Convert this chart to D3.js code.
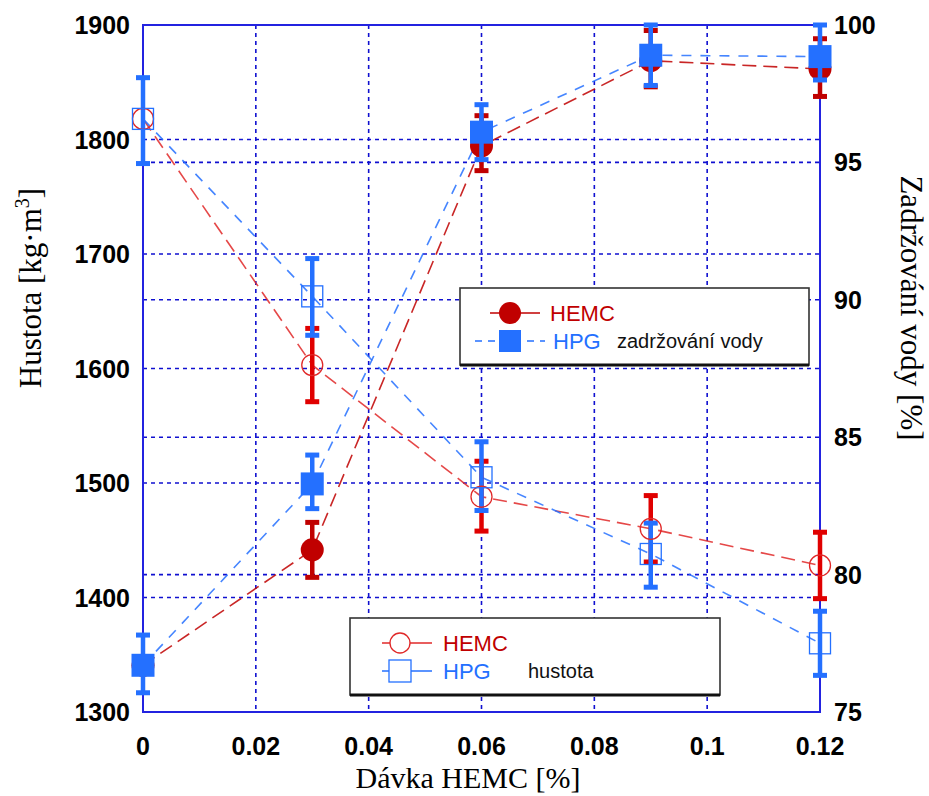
<!DOCTYPE html>
<html>
<head>
<meta charset="utf-8">
<script src="https://cdn.jsdelivr.net/npm/d3@7"></script>
<style>
  body { margin: 0; background: #fff; }
  svg { display: block; }
</style>
</head>
<body>
<div id="chart"></div>
<script>
// HEMC / HPG dose [%]
var dose = [0, 0.03, 0.06, 0.09, 0.12];

// density (hustota) [kg/m3], left axis
var densHEMC   = [1818, 1603, 1488, 1460, 1428];
var densHEMCHi = [1818, 1635, 1519, 1489, 1457];
var densHEMCLo = [1818, 1571, 1458, 1431, 1399];
var densHPG    = [1818, 1663, 1505, 1438, 1360];
var densHPGHi  = [1854, 1696, 1536, 1465, 1388];
var densHPGLo  = [1779, 1629, 1476, 1409, 1332];

// water retention (zadrzovani vody) [%], right axis
var retHEMC   = [76.7, 80.9, 95.6, 98.7, 98.4];
var retHEMCHi = [76.7, 81.9, 96.7, 99.8, 99.5];
var retHEMCLo = [76.7, 79.9, 94.7, 97.75, 97.4];
var retHPG    = [76.7, 83.3, 96.1, 98.9, 98.85];
var retHPGHi  = [77.8, 84.35, 97.1, 100, 100];
var retHPGLo  = [75.7, 82.4, 95.1, 97.8, 98.0];

var xTicks = [0, 0.02, 0.04, 0.06, 0.08, 0.1, 0.12];
var leftTicks = [1300, 1400, 1500, 1600, 1700, 1800, 1900];
var rightTicks = [75, 80, 85, 90, 95, 100];

var W = 929, H = 796;
var m = {left: 143, right: 820, top: 25, bottom: 712};

var red = "#c00000", redLight = "#e02828", blue = "#2470ff", axisBlue = "#2323e0";

var svg = d3.select("#chart").append("svg")
    .attr("width", W)
    .attr("height", H);

var x = d3.scaleLinear().domain([0, 0.12]).range([m.left, m.right]);
var yL = d3.scaleLinear().domain([1300, 1900]).range([m.bottom, m.top]);
var yR = d3.scaleLinear().domain([75, 100]).range([m.bottom, m.top]);

// grid lines
var grid = svg.append("g")
    .attr("stroke", "#1010d0")
    .attr("stroke-width", 1.6)
    .attr("stroke-dasharray", "4,4");

grid.selectAll(".vgrid")
    .data(xTicks.slice(1, -1))
    .enter().append("line")
    .attr("x1", function(d) { return x(d); })
    .attr("x2", function(d) { return x(d); })
    .attr("y1", m.top)
    .attr("y2", m.bottom);

grid.selectAll(".lgrid")
    .data(leftTicks.slice(1, -1))
    .enter().append("line")
    .attr("x1", m.left).attr("x2", m.right)
    .attr("y1", function(d) { return yL(d); })
    .attr("y2", function(d) { return yL(d); });

grid.selectAll(".rgrid")
    .data(rightTicks.slice(1, -1))
    .enter().append("line")
    .attr("x1", m.left).attr("x2", m.right)
    .attr("y1", function(d) { return yR(d); })
    .attr("y2", function(d) { return yR(d); });

// frame
svg.append("rect")
    .attr("x", m.left).attr("y", m.top)
    .attr("width", m.right - m.left).attr("height", m.bottom - m.top)
    .attr("fill", "none")
    .attr("stroke", axisBlue)
    .attr("stroke-width", 2);

// tick labels
var tickFont = "Liberation Sans, Arial, sans-serif";

svg.selectAll(".xlab")
    .data(xTicks)
    .enter().append("text")
    .attr("x", function(d) { return x(d); })
    .attr("y", 755)
    .attr("text-anchor", "middle")
    .style("font-family", tickFont)
    .style("font-weight", "bold")
    .style("font-size", "25px")
    .text(function(d) { return d; });

svg.selectAll(".llab")
    .data(leftTicks)
    .enter().append("text")
    .attr("x", 130)
    .attr("y", function(d) { return yL(d) + 9; })
    .attr("text-anchor", "end")
    .style("font-family", tickFont)
    .style("font-weight", "bold")
    .style("font-size", "25px")
    .text(function(d) { return d; });

svg.selectAll(".rlab")
    .data(rightTicks)
    .enter().append("text")
    .attr("x", 834)
    .attr("y", function(d) { return yR(d) + 9; })
    .attr("text-anchor", "start")
    .style("font-family", tickFont)
    .style("font-weight", "bold")
    .style("font-size", "25px")
    .text(function(d) { return d; });

// axis titles
var titleFont = "Liberation Serif, Times New Roman, serif";

var lt = svg.append("text")
    .attr("transform", "translate(41,288) rotate(-90)")
    .attr("text-anchor", "middle")
    .style("font-family", titleFont)
    .style("font-size", "31px");
lt.append("tspan").text("Hustota [kg·m");
lt.append("tspan").attr("dy", -12).style("font-size", "20px").text("3");
lt.append("tspan").attr("dy", 12).text("]");

svg.append("text")
    .attr("transform", "translate(901,308) rotate(90)")
    .attr("text-anchor", "middle")
    .style("font-family", titleFont)
    .style("font-size", "31px")
    .text("Zadržování vody [%]");

svg.append("text")
    .attr("x", 468)
    .attr("y", 788)
    .attr("text-anchor", "middle")
    .style("font-family", titleFont)
    .style("font-size", "30px")
    .text("Dávka HEMC [%]");

// helpers
function series(vals) {
    return dose.map(function(d, i) { return [d, vals[i]]; });
}

function drawLine(vals, y, color, dash) {
    svg.append("path")
        .datum(series(vals))
        .attr("fill", "none")
        .attr("stroke", color)
        .attr("stroke-width", 1.6)
        .attr("stroke-opacity", 0.85)
        .attr("stroke-dasharray", dash)
        .attr("d", d3.line()
            .x(function(d) { return x(d[0]); })
            .y(function(d) { return y(d[1]); }));
}

function drawErr(lo, hi, y, color) {
    var g = svg.append("g");
    var rows = dose.map(function(d, i) { return [d, lo[i], hi[i]]; })
        .filter(function(r) { return r[2] > r[1]; });
    g.selectAll(".bar").data(rows).enter().append("line")
        .attr("x1", function(d) { return x(d[0]); })
        .attr("x2", function(d) { return x(d[0]); })
        .attr("y1", function(d) { return y(d[1]); })
        .attr("y2", function(d) { return y(d[2]); })
        .attr("stroke", color)
        .attr("stroke-width", 4.5);
    g.selectAll(".capLo").data(rows).enter().append("rect")
        .attr("x", function(d) { return x(d[0]) - 7; })
        .attr("y", function(d) { return y(d[1]) - 2.5; })
        .attr("width", 14).attr("height", 5)
        .attr("fill", color);
    g.selectAll(".capHi").data(rows).enter().append("rect")
        .attr("x", function(d) { return x(d[0]) - 7; })
        .attr("y", function(d) { return y(d[2]) - 2.5; })
        .attr("width", 14).attr("height", 5)
        .attr("fill", color);
}

function drawCircles(vals, y, color, filled, r) {
    svg.append("g").selectAll("circle")
        .data(series(vals))
        .enter().append("circle")
        .attr("cx", function(d) { return x(d[0]); })
        .attr("cy", function(d) { return y(d[1]); })
        .attr("r", r)
        .attr("fill", filled ? color : "none")
        .attr("stroke", color)
        .attr("stroke-width", filled ? 0 : 1.3);
}

function drawSquares(vals, y, color, filled, s) {
    svg.append("g").selectAll("rect")
        .data(series(vals))
        .enter().append("rect")
        .attr("x", function(d) { return x(d[0]) - s / 2; })
        .attr("y", function(d) { return y(d[1]) - s / 2; })
        .attr("width", s).attr("height", s)
        .attr("fill", filled ? color : "none")
        .attr("stroke", color)
        .attr("stroke-width", filled ? 0 : 1.3);
}

// density (open markers)
drawLine(densHEMC, yL, redLight, "14,7");
drawLine(densHPG, yL, blue, "10,9");
drawErr(densHEMCLo, densHEMCHi, yL, "#e00000");
drawErr(densHPGLo, densHPGHi, yL, blue);
drawCircles(densHEMC, yL, redLight, false, 10.5);
drawSquares(densHPG, yL, blue, false, 21);

// water retention (filled markers)
drawLine(retHEMC, yR, red, "14,7");
drawLine(retHPG, yR, blue, "10,9");
drawErr(retHEMCLo, retHEMCHi, yR, red);
drawCircles(retHEMC, yR, red, true, 11.5);
drawErr(retHPGLo, retHPGHi, yR, blue);
drawSquares(retHPG, yR, blue, true, 23);

// legends
function legend(bx, by, bw, bh, filled, hpgDash, note, noteX) {
    var g = svg.append("g");
    g.append("rect")
        .attr("x", bx).attr("y", by)
        .attr("width", bw).attr("height", bh)
        .attr("fill", "#fff")
        .attr("stroke", "#333")
        .attr("stroke-width", 1.6);
    g.append("line")
        .attr("x1", bx).attr("x2", bx + bw)
        .attr("y1", by + bh).attr("y2", by + bh)
        .attr("stroke", "#111").attr("stroke-width", 3);

    var r1 = by + 25, r2 = by + 53;
    var mx = bx + 50;
    g.append("line")
        .attr("x1", mx - (filled ? 20 : 18)).attr("x2", mx + (filled ? 30 : 32))
        .attr("y1", r1).attr("y2", r1)
        .attr("stroke", filled ? red : redLight).attr("stroke-width", 1.5);
    g.append("circle")
        .attr("cx", mx).attr("cy", r1)
        .attr("r", filled ? 11 : 10)
        .attr("fill", filled ? red : "#fff")
        .attr("stroke", redLight)
        .attr("stroke-width", filled ? 0 : 1.3);
    g.append("line")
        .attr("x1", mx - (filled ? 35 : 18)).attr("x2", mx + (filled ? 35 : 32))
        .attr("y1", r2).attr("y2", r2)
        .attr("stroke", blue).attr("stroke-width", 1.5)
        .attr("stroke-dasharray", hpgDash);
    g.append("rect")
        .attr("x", mx - 11).attr("y", r2 - 11)
        .attr("width", 22).attr("height", 22)
        .attr("fill", filled ? blue : "#fff")
        .attr("stroke", blue)
        .attr("stroke-width", filled ? 0 : 1.3);

    var tx = mx + (filled ? 40 : 43);
    g.append("text")
        .attr("x", tx).attr("y", r1 + 8)
        .attr("fill", "#c00000")
        .style("font-family", tickFont)
        .style("font-size", "22px")
        .text("HEMC");
    g.append("text")
        .attr("x", tx + (filled ? 3 : 0)).attr("y", r2 + 8)
        .attr("fill", blue)
        .style("font-family", tickFont)
        .style("font-size", "22px")
        .text("HPG");
    g.append("text")
        .attr("x", noteX).attr("y", r2 + 7)
        .attr("fill", "#111")
        .style("font-family", tickFont)
        .style("font-size", "20px")
        .text(note);
}

legend(460, 288, 349, 77, true, "7,6", "zadržování vody", 617);
legend(350, 618, 370, 77, false, null, "hustota", 528);
</script>
</body>
</html>
